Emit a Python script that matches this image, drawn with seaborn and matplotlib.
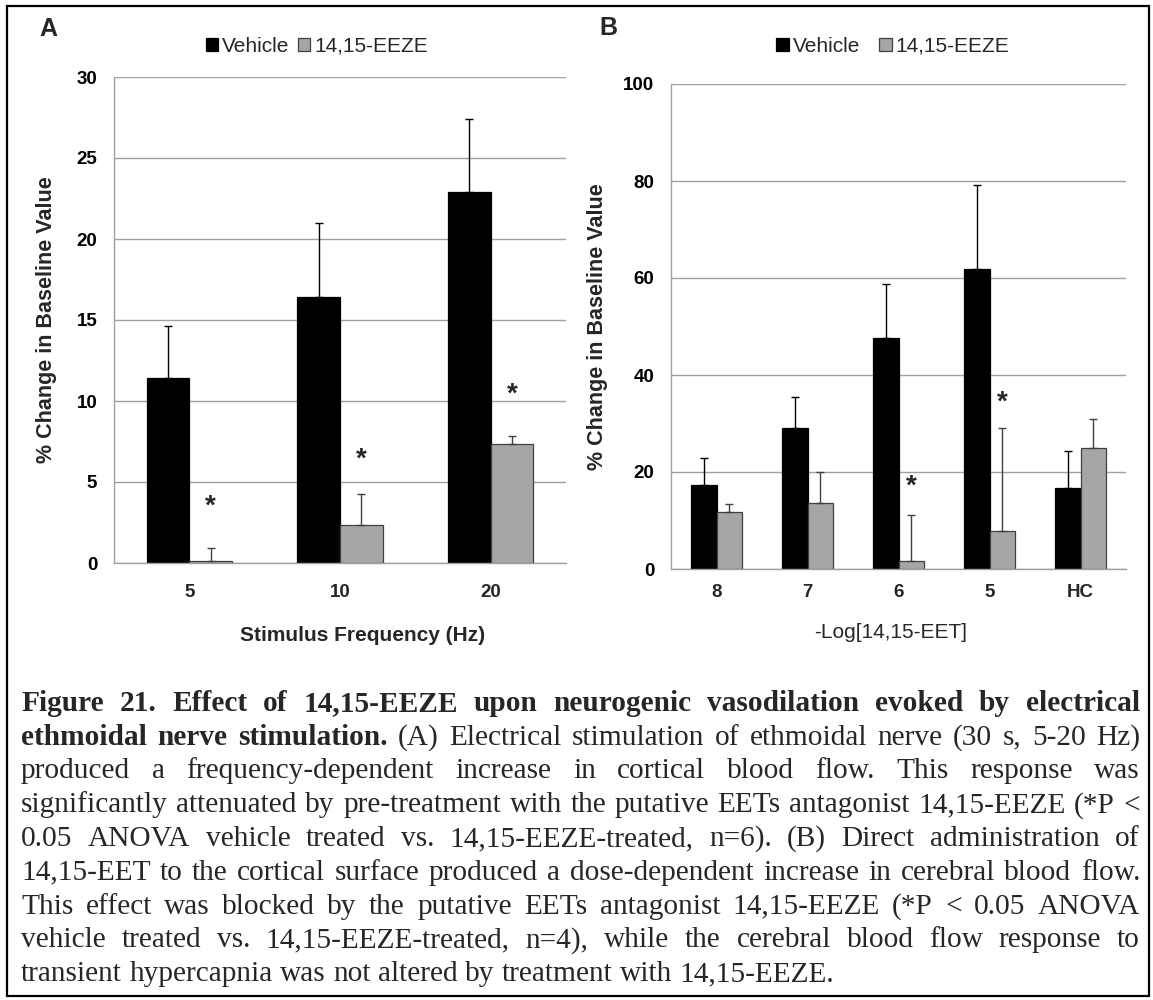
import matplotlib
matplotlib.use("Agg")
import matplotlib.pyplot as plt
from matplotlib.patches import Patch, Rectangle
import numpy as np
import pandas as pd
import seaborn as sns

# panel A: electrical stimulation of the ethmoidal nerve
freq_labels = ["5", "10", "20"]
vehicle_a = [11.4, 16.4, 22.9]
vehicle_a_err = [3.2, 4.6, 4.5]
eeze_a = [0.12, 2.37, 7.37]
eeze_a_err = [0.8, 1.9, 0.5]
star_a = [3.5, 6.4, 10.4]

# panel B: topical 14,15-EET, -log dose
dose_labels = ["8", "7", "6", "5", "HC"]
vehicle_b = [17.3, 29.0, 47.7, 61.8, 16.8]
vehicle_b_err = [5.6, 6.5, 11.1, 17.3, 7.5]
eeze_b = [11.7, 13.7, 1.7, 7.9, 24.9]
eeze_b_err = [1.7, 6.2, 9.4, 21.1, 6.0]
star_b = [None, None, 17.0, 34.4, None]

groups = ["Vehicle", "14,15-EEZE"]
fills = {"Vehicle": "#000000", "14,15-EEZE": "#a6a6a6"}
edges = {"Vehicle": "#000000", "14,15-EEZE": "#404040"}
GRID = "#a0a0a0"

sns.set_style("white")
plt.rcParams["font.family"] = ["Liberation Sans", "DejaVu Sans"]

W, H = 1153, 1000
fig = plt.figure(figsize=(W / 100, H / 100), dpi=100)


def draw_panel(ax, cats, veh, veh_err, eeze, eeze_err, stars, ymax, ystep):
    n = len(cats)
    df = pd.DataFrame({
        "cat": cats + cats,
        "group": [groups[0]] * n + [groups[1]] * n,
        "value": veh + eeze,
    })
    sns.barplot(data=df, x="cat", y="value", hue="group", order=cats,
                hue_order=groups, palette=fills, saturation=1, width=0.565,
                errorbar=None, legend=False, ax=ax, zorder=2)
    for cont, errs, g in zip(ax.containers, [veh_err, eeze_err], groups):
        for bar, e in zip(cont, errs):
            bar.set_edgecolor(edges[g])
            bar.set_linewidth(0.9)
            x = bar.get_x() + bar.get_width() / 2
            ax.errorbar(x, bar.get_height(), yerr=[[0], [e]], fmt="none",
                        ecolor=edges[g], elinewidth=1.0, capsize=2.6,
                        capthick=1.0, zorder=3)
    for bar, s in zip(ax.containers[1], stars):
        if s is not None:
            ax.text(bar.get_x() + bar.get_width() / 2, s, "*", ha="center",
                    va="center", fontsize=20, fontweight="bold", zorder=4)

    ax.set_xlim(-0.5, n - 0.5)
    ax.set_ylim(0, ymax)
    ax.set_yticks(np.arange(0, ymax + 1, ystep))
    ax.yaxis.grid(True, color=GRID, lw=1.0)
    ax.set_axisbelow(True)
    for s in ["top", "right"]:
        ax.spines[s].set_visible(False)
    for s in ["left", "bottom"]:
        ax.spines[s].set_color(GRID)
        ax.spines[s].set_linewidth(1.0)
    ax.tick_params(axis="y", length=5, width=1.0, color=GRID, pad=7,
                   labelsize=13.5, labelcolor="black")
    ax.tick_params(axis="x", which="major", length=0, labelsize=13.5)
    for lbl in ax.get_xticklabels() + ax.get_yticklabels():
        lbl.set_fontweight("bold")
    ax.set_xlabel("")
    ax.set_ylabel("% Change in Baseline Value", fontsize=15.5,
                  fontweight="bold")


axA = fig.add_axes([114 / W, 1 - 563 / H, 452 / W, 486 / H])
draw_panel(axA, freq_labels, vehicle_a, vehicle_a_err, eeze_a, eeze_a_err,
           star_a, 30, 5)
axA.set_xticks(np.arange(-0.5, len(freq_labels), 1), minor=True)
axA.tick_params(axis="x", which="minor", length=4.5, width=1.0, color=GRID)
axA.tick_params(axis="x", which="major", pad=15)
axA.set_xlabel("Stimulus Frequency (Hz)", fontsize=15, fontweight="bold",
               va="center")
axA.xaxis.set_label_coords(0.549, -0.150)
axA.yaxis.set_label_coords(-0.126, 0.5)

axB = fig.add_axes([671 / W, 1 - 569 / H, 455 / W, 485 / H])
draw_panel(axB, dose_labels, vehicle_b, vehicle_b_err, eeze_b, eeze_b_err,
           star_b, 100, 20)
axB.tick_params(axis="x", which="major", pad=11)
axB.set_xlabel("-Log[14,15-EET]", fontsize=15, va="center")
axB.xaxis.set_label_coords(0.482, -0.130)
axB.yaxis.set_label_coords(-0.138, 0.5)

handles = [Patch(facecolor=fills[g], edgecolor=edges[g], lw=0.9) for g in groups]
for cx, spacing in [(317, 0.4), (893, 0.9)]:
    fig.legend(handles, groups, loc="center", bbox_to_anchor=(cx / W, 1 - 46 / H),
               ncol=2, frameon=False, fontsize=15, handlelength=0.6,
               handleheight=0.6, handletextpad=0.2, columnspacing=spacing)

fig.text(48 / W, 1 - 29 / H, "A", fontsize=18, fontweight="bold",
         ha="center", va="center")
fig.text(608 / W, 1 - 28 / H, "B", fontsize=18, fontweight="bold",
         ha="center", va="center")

# caption, justified like the source page
caption = [
    [("Figure 21. Effect of 14,15-EEZE upon neurogenic vasodilation evoked by electrical", True)],
    [("ethmoidal nerve stimulation.", True),
     ("(A) Electrical stimulation of ethmoidal nerve (30 s, 5-20 Hz)", False)],
    [("produced a frequency-dependent increase in cortical blood flow. This response was", False)],
    [("significantly attenuated by pre-treatment with the putative EETs antagonist 14,15-EEZE (*P <", False)],
    [("0.05 ANOVA vehicle treated vs. 14,15-EEZE-treated, n=6). (B) Direct administration of", False)],
    [("14,15-EET to the cortical surface produced a dose-dependent increase in cerebral blood flow.", False)],
    [("This effect was blocked by the putative EETs antagonist 14,15-EEZE (*P < 0.05 ANOVA", False)],
    [("vehicle treated vs. 14,15-EEZE-treated, n=4), while the cerebral blood flow response to", False)],
    [("transient hypercapnia was not altered by treatment with 14,15-EEZE.", False)],
]
renderer = fig.canvas.get_renderer()


def text_width(s, bold, fs):
    t = fig.text(0, 0, s, fontsize=fs, family="Liberation Serif",
                 fontweight="bold" if bold else "normal")
    w = t.get_window_extent(renderer).width
    t.remove()
    return w


left, right = 21, 1140
base = 15.0
lines = []
for parts in caption:
    words = [(w, b) for s, b in parts for w in s.split(" ")]
    lines.append(words)
naturals = []
for words in lines:
    ws = sum(text_width(w, b, base) for w, b in words)
    sp = text_width("x x", False, base) - text_width("xx", False, base)
    naturals.append(ws + sp * (len(words) - 1))
fs = base * (right - left) * 0.995 / max(naturals[:-1])

space = text_width("x x", False, fs) - text_width("xx", False, fs)
for k, words in enumerate(lines):
    widths = [text_width(w, b, fs) for w, b in words]
    if k < len(lines) - 1:
        gap = (right - left - sum(widths)) / (len(words) - 1)
    else:
        gap = space
    x = left
    y = 711 + 33.75 * k
    for (w, b), wd in zip(words, widths):
        fig.text(x / W, 1 - y / H, w, fontsize=fs, family="Liberation Serif",
                 fontweight="bold" if b else "normal", ha="left", va="baseline")
        x += wd + gap

fig.patches.append(Rectangle((7 / W, 1 - 996 / H), 1142 / W, 990 / H,
                             transform=fig.transFigure, fill=False,
                             edgecolor="black", lw=1.6))

fig.savefig("out.png", dpi=100)
